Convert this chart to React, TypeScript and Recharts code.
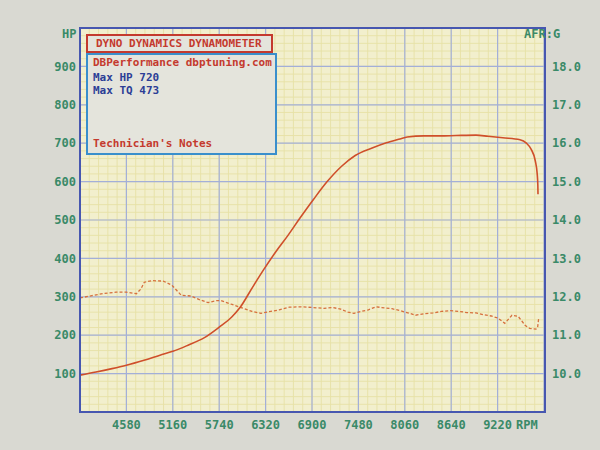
import { LineChart, Line, XAxis, YAxis, CartesianGrid } from 'recharts'

// power run
const hpRpm = [4000, 4200, 4400, 4580, 4800, 5000, 5160, 5350, 5550, 5740, 5900, 6000, 6160, 6300, 6450, 6600, 6750, 6920, 7090, 7270, 7440, 7660, 7830, 8000, 8090, 8300, 8500, 8700, 8950, 9100, 9285, 9500, 9580, 9640, 9690, 9715, 9723, 9725]
const hpValues = [96, 104, 113, 122, 135, 148, 158, 174, 193, 221, 248, 272, 326, 372, 418, 460, 505, 554, 600, 640, 668, 688, 701, 711, 716, 719, 719, 720, 721, 718, 714, 709, 700, 684, 655, 620, 590, 567]

// air/fuel ratio (dashed)
const afrRpm = [4000, 4150, 4306, 4450, 4580, 4705, 4760, 4804, 4900, 5041, 5150, 5265, 5389, 5500, 5601, 5700, 5763, 5900, 6012, 6150, 6261, 6385, 6490, 6618, 6760, 6913, 7050, 7160, 7259, 7350, 7426, 7520, 7605, 7700, 7772, 7900, 8000, 8118, 8195, 8300, 8413, 8520, 8631, 8740, 8836, 8950, 9054, 9140, 9220, 9310, 9400, 9477, 9530, 9567, 9620, 9656, 9700, 9720, 9733]
const afrValues = [11.97, 12.03, 12.09, 12.12, 12.12, 12.08, 12.2, 12.38, 12.42, 12.41, 12.3, 12.04, 12.02, 11.92, 11.85, 11.9, 11.9, 11.8, 11.72, 11.62, 11.57, 11.62, 11.66, 11.73, 11.74, 11.72, 11.7, 11.72, 11.68, 11.6, 11.57, 11.62, 11.66, 11.74, 11.72, 11.69, 11.64, 11.57, 11.52, 11.56, 11.58, 11.62, 11.64, 11.62, 11.59, 11.58, 11.53, 11.5, 11.45, 11.31, 11.52, 11.49, 11.35, 11.25, 11.18, 11.17, 11.16, 11.2, 11.43]

const rpmTicks = [4580, 5160, 5740, 6320, 6900, 7480, 8060, 8640, 9220]
const hpTicks = [100, 200, 300, 400, 500, 600, 700, 800, 900]
const afrTicks = [10, 11, 12, 13, 14, 15, 16, 17, 18]

const hpData = hpRpm.map((rpm, i) => ({ rpm, hp: hpValues[i] }))
const afrData = afrRpm.map((rpm, i) => ({ rpm, afr: afrValues[i] }))

const RPM_MIN = 4000
const RPM_MAX = 9800
const HP_MAX = 1000

// fine yellow graph-paper lines, 5 per major division
const minorX: number[] = []
for (let r = RPM_MIN; r <= RPM_MAX; r += 116) minorX.push(r)
const minorY: number[] = []
for (let h = 0; h <= HP_MAX; h += 20) minorY.push(h)

const mono = '"DejaVu Sans Mono", monospace'
const green = '#3a8a68'
const tickStyle = { fontSize: 12, fill: green, fontFamily: mono, fontWeight: 700 }

export default function App() {
    return (
        <div style={{ position: 'absolute', left: 0, top: 0, width: 600, height: 450, background: '#d9d9d2', overflow: 'hidden' }}>
            <LineChart width={600} height={450} margin={{ top: 28, right: 0, left: 20, bottom: 8 }}>
                <XAxis
                    xAxisId="rpm"
                    type="number"
                    dataKey="rpm"
                    domain={[RPM_MIN, RPM_MAX]}
                    ticks={rpmTicks}
                    interval={0}
                    height={30}
                    axisLine={false}
                    tickLine={false}
                    tickSize={0}
                    tickMargin={8}
                    tick={tickStyle}
                />
                <YAxis
                    yAxisId="hp"
                    domain={[0, HP_MAX]}
                    ticks={hpTicks}
                    interval={0}
                    width={60}
                    axisLine={false}
                    tickLine={false}
                    tickSize={0}
                    tickMargin={4}
                    tick={tickStyle}
                />
                <YAxis
                    yAxisId="afr"
                    orientation="right"
                    domain={[9, 19]}
                    ticks={afrTicks}
                    interval={0}
                    width={56}
                    axisLine={false}
                    tickLine={false}
                    tickSize={0}
                    tickMargin={8}
                    tick={tickStyle}
                    tickFormatter={(v) => v.toFixed(1)}
                />

                <CartesianGrid
                    xAxisId="rpm"
                    yAxisId="hp"
                    stroke="#e7e1a6"
                    strokeWidth={0.9}
                    fill="#f2efcd"
                    verticalCoordinatesGenerator={({ offset }: any) =>
                        minorX.map((r) => offset.left + ((r - RPM_MIN) / (RPM_MAX - RPM_MIN)) * offset.width)
                    }
                    horizontalCoordinatesGenerator={({ offset }: any) =>
                        minorY.map((h) => offset.top + (1 - h / HP_MAX) * offset.height)
                    }
                />
                <CartesianGrid xAxisId="rpm" yAxisId="hp" stroke="#a3afd8" strokeWidth={1.2} />

                <Line
                    data={afrData}
                    xAxisId="rpm"
                    yAxisId="afr"
                    dataKey="afr"
                    type="linear"
                    stroke="#d66f3c"
                    strokeWidth={1.3}
                    strokeDasharray="3 2"
                    dot={false}
                    isAnimationActive={false}
                />
                <Line
                    data={hpData}
                    xAxisId="rpm"
                    yAxisId="hp"
                    dataKey="hp"
                    type="monotone"
                    stroke="#cf4f2a"
                    strokeWidth={1.6}
                    dot={false}
                    isAnimationActive={false}
                />
            </LineChart>

            {/* plot frame */}
            <div style={{ position: 'absolute', left: 79, top: 27, width: 467, height: 386, border: '2px solid #4757b0', boxSizing: 'border-box', pointerEvents: 'none' }} />

            <div style={{ position: 'absolute', left: 62, top: 27, color: green, fontFamily: mono, fontWeight: 700, fontSize: 12 }}>HP</div>
            <div style={{ position: 'absolute', left: 524, top: 27, color: green, fontFamily: mono, fontWeight: 700, fontSize: 12 }}>AFR:G</div>
            <div style={{ position: 'absolute', left: 516, top: 418, color: green, fontFamily: mono, fontWeight: 700, fontSize: 12 }}>RPM</div>

            {/* header box */}
            <div style={{ position: 'absolute', left: 86, top: 34, width: 187, height: 19, border: '2px solid #c43a2e', boxSizing: 'border-box', background: '#e4e4dc', color: '#c43a2e', fontFamily: mono, fontWeight: 700, fontSize: 11, lineHeight: '15px', paddingLeft: 8 }}>
                DYNO DYNAMICS DYNAMOMETER
            </div>
            <div style={{ position: 'absolute', left: 86, top: 53, width: 191, height: 102, border: '2px solid #3a8fcc', boxSizing: 'border-box', background: '#e4e4dc', fontFamily: mono, fontWeight: 700, fontSize: 11, lineHeight: '13px', paddingLeft: 5 }}>
                <div style={{ color: '#c43a2e', marginTop: 1 }}>DBPerformance dbptuning.com</div>
                <div style={{ color: '#2c3e96', marginTop: 2 }}>Max HP 720</div>
                <div style={{ color: '#2c3e96', marginTop: 0 }}>Max TQ 473</div>
                <div style={{ color: '#c43a2e', position: 'absolute', left: 5, top: 82 }}>Technician's Notes</div>
            </div>
        </div>
    )
}
